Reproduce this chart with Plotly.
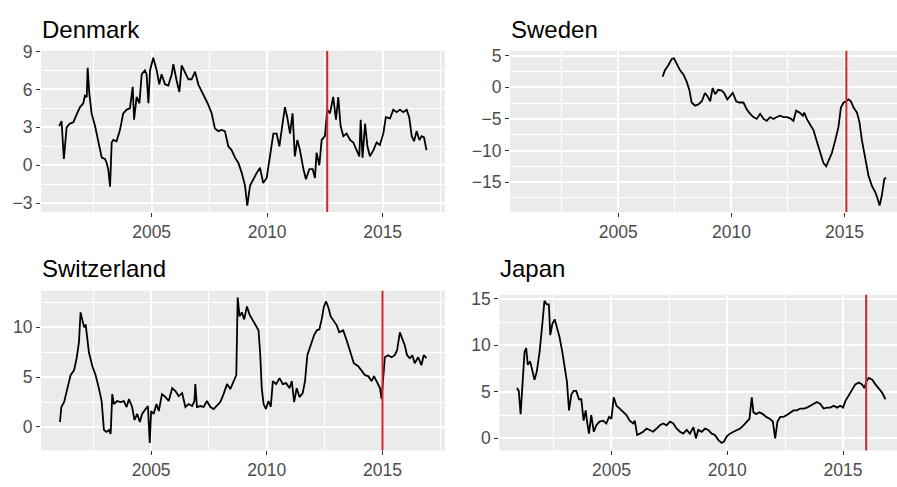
import plotly.graph_objects as go

# ---------------- data ----------------
countries = ["Denmark", "Sweden", "Switzerland", "Japan"]
policy_dates = [2012.6, 2015.08, 2015.0, 2016.0]

dk_year = [2001.00, 2001.10, 2001.20, 2001.32, 2001.46, 2001.61, 2001.75, 2001.90, 2002.04, 2002.11,
           2002.19, 2002.23, 2002.30, 2002.40, 2002.55, 2002.69, 2002.84, 2002.98, 2003.05, 2003.12,
           2003.20, 2003.27, 2003.34, 2003.48, 2003.63, 2003.77, 2003.92, 2004.06, 2004.18, 2004.24,
           2004.35, 2004.47, 2004.57, 2004.71, 2004.78, 2004.86, 2004.93, 2005.07, 2005.22, 2005.33,
           2005.43, 2005.58, 2005.72, 2005.87, 2005.94, 2006.08, 2006.20, 2006.30, 2006.44, 2006.59,
           2006.73, 2006.88, 2007.02, 2007.16, 2007.31, 2007.45, 2007.60, 2007.74, 2007.89, 2008.03,
           2008.17, 2008.32, 2008.46, 2008.61, 2008.75, 2008.90, 2009.04, 2009.14, 2009.26, 2009.40,
           2009.55, 2009.69, 2009.83, 2009.98, 2010.12, 2010.27, 2010.41, 2010.53, 2010.63, 2010.77,
           2010.87, 2010.99, 2011.10, 2011.20, 2011.31, 2011.42, 2011.57, 2011.68, 2011.83, 2011.97,
           2012.07, 2012.14, 2012.26, 2012.36, 2012.50, 2012.60, 2012.72, 2012.86, 2012.98, 2013.08,
           2013.18, 2013.30, 2013.44, 2013.59, 2013.73, 2013.87, 2013.99, 2014.05, 2014.13, 2014.24,
           2014.34, 2014.45, 2014.60, 2014.74, 2014.88, 2015.03, 2015.14, 2015.32, 2015.46, 2015.61,
           2015.75, 2015.89, 2016.04, 2016.15, 2016.26, 2016.36, 2016.47, 2016.59, 2016.69, 2016.79,
           2016.90]
dk_val = [3.1, 3.5, 0.5, 3.0, 3.3, 3.4, 4.0, 4.6, 4.9, 5.5,
          5.4, 7.7, 5.7, 4.1, 3.1, 1.8, 0.6, 0.5, 0.2, -0.3,
          -1.7, 1.8, 2.0, 1.9, 2.8, 4.1, 4.4, 4.5, 6.2, 3.6,
          5.4, 4.9, 7.2, 7.5, 7.2, 4.9, 7.5, 8.5, 7.5, 6.4,
          7.2, 6.4, 6.3, 7.2, 8.0, 6.7, 5.8, 7.9, 7.4, 6.8,
          6.8, 7.4, 6.4, 5.9, 5.4, 4.8, 4.1, 2.9, 2.7, 2.8,
          2.7, 1.5, 1.2, 0.6, 0.2, -0.6, -1.6, -3.2, -1.6, -1.1,
          -0.6, -0.2, -1.4, -1.0, 0.7, 2.5, 2.5, 1.5, 2.8, 4.6,
          3.8, 2.5, 4.1, 0.7, 2.0, 1.2, -0.3, -1.1, -0.3, -0.3,
          -1.0, 1.0, 0.0, 2.0, 2.3, 4.4, 4.1, 5.4, 3.6, 5.4,
          3.1, 2.3, 2.5, 2.0, 1.8, 1.2, 0.7, 3.6, 0.6, 3.3,
          1.5, 0.7, 1.2, 1.8, 1.6, 2.5, 3.8, 3.7, 4.4, 4.2,
          4.4, 4.2, 4.4, 3.8, 2.3, 1.9, 2.7, 2.0, 2.3, 2.2,
          1.2]

se_year = [2006.96, 2007.06, 2007.21, 2007.36, 2007.46, 2007.58, 2007.73, 2007.88, 2008.02, 2008.14,
           2008.24, 2008.39, 2008.54, 2008.69, 2008.83, 2008.94, 2009.06, 2009.17, 2009.28, 2009.42,
           2009.57, 2009.68, 2009.82, 2009.94, 2010.06, 2010.21, 2010.35, 2010.53, 2010.68, 2010.83,
           2010.97, 2011.12, 2011.27, 2011.42, 2011.56, 2011.71, 2011.86, 2012.01, 2012.15, 2012.30,
           2012.45, 2012.60, 2012.74, 2012.86, 2013.01, 2013.16, 2013.22, 2013.33, 2013.48, 2013.63,
           2013.78, 2013.92, 2014.07, 2014.19, 2014.29, 2014.44, 2014.59, 2014.73, 2014.84, 2014.96,
           2015.07, 2015.18, 2015.28, 2015.40, 2015.55, 2015.66, 2015.77, 2015.91, 2016.06, 2016.21,
           2016.36, 2016.46, 2016.55, 2016.65, 2016.76, 2016.84]
se_val = [1.7, 2.7, 3.5, 4.5, 4.6, 3.8, 2.7, 2.0, 0.9, -0.4,
          -2.4, -2.9, -2.7, -2.2, -0.9, -1.4, -2.2, -0.1, -1.1, -0.4,
          -0.5, -0.9, -1.9, -1.4, -0.9, -2.2, -2.4, -2.4, -3.5, -4.2,
          -4.7, -5.0, -4.2, -5.0, -5.3, -4.7, -5.0, -4.7, -4.5, -4.7,
          -4.7, -4.9, -5.3, -3.7, -4.0, -4.5, -4.0, -5.0, -5.8, -6.8,
          -8.6, -10.4, -12.0, -12.5, -11.7, -10.4, -8.4, -6.3, -3.2, -2.4,
          -2.2, -1.9, -2.2, -3.2, -4.0, -5.5, -8.4, -11.4, -14.0, -15.6,
          -16.6, -17.6, -18.7, -17.1, -14.5, -14.3]

ch_year = [2001.06, 2001.12, 2001.24, 2001.38, 2001.52, 2001.67, 2001.78, 2001.88, 2001.95, 2002.03,
           2002.10, 2002.17, 2002.24, 2002.31, 2002.46, 2002.60, 2002.74, 2002.86, 2002.96, 2003.07,
           2003.18, 2003.25, 2003.32, 2003.39, 2003.53, 2003.68, 2003.82, 2003.94, 2004.04, 2004.18,
           2004.28, 2004.40, 2004.51, 2004.61, 2004.76, 2004.86, 2004.94, 2005.00, 2005.11, 2005.23,
           2005.33, 2005.47, 2005.62, 2005.76, 2005.91, 2006.05, 2006.19, 2006.34, 2006.48, 2006.62,
           2006.77, 2006.87, 2006.91, 2006.98, 2007.13, 2007.27, 2007.41, 2007.56, 2007.70, 2007.84,
           2007.99, 2008.13, 2008.28, 2008.42, 2008.56, 2008.68, 2008.74, 2008.82, 2008.92, 2009.02,
           2009.14, 2009.25, 2009.37, 2009.50, 2009.64, 2009.71, 2009.78, 2009.86, 2009.96, 2010.07,
           2010.17, 2010.26, 2010.40, 2010.55, 2010.69, 2010.83, 2010.98, 2011.08, 2011.18, 2011.29,
           2011.41, 2011.55, 2011.65, 2011.75, 2011.90, 2012.04, 2012.16, 2012.27, 2012.37, 2012.47,
           2012.56, 2012.66, 2012.76, 2012.87, 2013.02, 2013.13, 2013.30, 2013.45, 2013.59, 2013.76,
           2013.95, 2014.09, 2014.24, 2014.38, 2014.53, 2014.63, 2014.74, 2014.89, 2014.96, 2015.03,
           2015.10, 2015.24, 2015.39, 2015.53, 2015.63, 2015.75, 2015.86, 2015.96, 2016.06, 2016.18,
           2016.29, 2016.39, 2016.54, 2016.68, 2016.78, 2016.90]
ch_val = [0.5, 2.0, 2.5, 3.9, 5.2, 5.7, 6.9, 8.5, 11.5, 10.7,
          10.0, 10.3, 8.9, 7.5, 6.1, 5.2, 3.9, 2.6, -0.3, -0.5,
          -0.3, -0.7, 3.3, 2.3, 2.6, 2.5, 2.6, 2.0, 2.8, 2.0,
          0.7, 1.3, 0.5, 1.3, 1.8, 2.1, -1.6, 1.6, 1.3, 2.3,
          1.6, 3.3, 3.0, 2.6, 3.9, 3.6, 3.1, 3.4, 2.0, 2.3,
          2.1, 2.6, 4.3, 2.0, 2.1, 2.0, 2.6, 2.0, 1.8, 2.1,
          2.5, 3.3, 4.3, 3.8, 4.6, 5.2, 13.0, 11.1, 11.5, 10.8,
          12.1, 11.3, 10.8, 10.3, 9.7, 7.5, 3.9, 2.3, 1.8, 2.6,
          2.0, 4.6, 4.3, 4.9, 4.3, 4.4, 3.9, 4.6, 2.5, 3.9,
          3.0, 3.4, 4.6, 7.2, 8.2, 9.2, 9.7, 9.8, 10.8, 12.1,
          12.6, 12.0, 11.1, 10.7, 10.2, 9.5, 9.7, 8.7, 7.7, 6.4,
          6.1, 5.7, 5.2, 5.1, 4.6, 5.1, 4.6, 3.9, 2.8, 4.6,
          7.0, 7.2, 7.0, 7.2, 7.7, 9.5, 8.7, 8.2, 7.2, 6.9,
          7.2, 6.4, 7.0, 6.2, 7.2, 6.9]

jp_year = [2000.92, 2001.00, 2001.08, 2001.15, 2001.25, 2001.32, 2001.39, 2001.49, 2001.61, 2001.68,
           2001.78, 2001.90, 2002.01, 2002.11, 2002.21, 2002.30, 2002.36, 2002.45, 2002.55, 2002.65,
           2002.76, 2002.88, 2002.98, 2003.08, 2003.17, 2003.27, 2003.37, 2003.48, 2003.60, 2003.70,
           2003.80, 2003.89, 2003.95, 2004.03, 2004.13, 2004.24, 2004.35, 2004.49, 2004.64, 2004.78,
           2004.90, 2005.00, 2005.10, 2005.22, 2005.36, 2005.51, 2005.65, 2005.79, 2005.94, 2006.01,
           2006.11, 2006.23, 2006.37, 2006.52, 2006.66, 2006.80, 2006.95, 2007.09, 2007.24, 2007.38,
           2007.53, 2007.67, 2007.81, 2007.96, 2008.10, 2008.25, 2008.39, 2008.54, 2008.65, 2008.75,
           2008.90, 2009.04, 2009.18, 2009.33, 2009.47, 2009.62, 2009.76, 2009.86, 2009.98, 2010.12,
           2010.27, 2010.41, 2010.56, 2010.70, 2010.84, 2010.96, 2011.06, 2011.13, 2011.25, 2011.39,
           2011.54, 2011.68, 2011.83, 2011.97, 2012.07, 2012.17, 2012.29, 2012.43, 2012.58, 2012.72,
           2012.86, 2013.01, 2013.15, 2013.30, 2013.44, 2013.59, 2013.73, 2013.87, 2014.02, 2014.16,
           2014.31, 2014.45, 2014.60, 2014.74, 2014.88, 2015.00, 2015.10, 2015.25, 2015.39, 2015.53,
           2015.68, 2015.82, 2015.92, 2016.01, 2016.11, 2016.26, 2016.40, 2016.54, 2016.69, 2016.83]
jp_val = [5.4, 5.1, 2.6, 5.1, 9.3, 9.7, 7.9, 8.3, 7.2, 6.3,
          7.2, 9.3, 12.1, 14.8, 14.4, 14.4, 11.1, 12.3, 12.8, 11.8,
          10.9, 9.3, 7.9, 6.1, 3.0, 4.7, 5.1, 5.1, 4.2, 4.2,
          1.9, 3.0, 1.8, 0.5, 2.5, 0.7, 1.4, 1.8, 1.9, 1.6,
          2.3, 2.1, 4.4, 3.5, 3.2, 2.8, 2.5, 1.9, 1.6, 1.9,
          0.35, 0.5, 0.7, 1.05, 0.9, 0.7, 1.05, 1.4, 1.6, 1.4,
          1.8, 1.6, 1.05, 0.7, 0.5, 0.9, 0.5, 1.2, 0.0, 0.9,
          0.7, 1.05, 0.9, 0.5, 0.35, -0.2, -0.5, -0.35, 0.2, 0.5,
          0.7, 0.9, 1.05, 1.4, 1.8, 2.1, 4.4, 2.8, 2.6, 2.8,
          2.6, 2.3, 2.1, 1.8, 0.0, 1.8, 2.3, 2.3, 2.5, 2.8,
          3.0, 3.0, 3.2, 3.2, 3.3, 3.5, 3.7, 3.9, 3.7, 3.2,
          3.3, 3.3, 3.5, 3.3, 3.5, 3.3, 4.0, 4.6, 5.3, 5.8,
          6.0, 5.8, 5.4, 6.1, 6.5, 6.3, 5.8, 5.4, 4.9, 4.2]

series_years = [dk_year, se_year, ch_year, jp_year]
series_vals = [dk_val, se_val, ch_val, jp_val]
y_dticks = [3, 5, 5, 5]

# ---------------- layout geometry ----------------
W, H = 897, 487
FONT = "Liberation Sans, Arial, sans-serif"

def xd(a, b):
    return [a / W, b / W]

def yd(top, bottom):
    return [(H - bottom) / H, (H - top) / H]

x_domains = [xd(41, 445), [510 / W, 1.0], xd(41, 445), [499.3 / W, 1.0]]
y_domains = [yd(42.7, 207.3), yd(42.7, 207.3), yd(287.7, 450.7), yd(291.7, 450.7)]
x_ranges = [[2000.21, 2017.70], [2000.21, 2017.32], [2000.24, 2017.70], [2000.16, 2017.33]]
y_ranges = [[-3.70, 9.05], [-19.74, 5.78], [-2.36, 13.67], [-1.31, 15.45]]
title_y = [20.5, 20.5, 264.5, 264.5]

fig = go.Figure()
layout = dict(
    width=W, height=H, autosize=False,
    margin=dict(l=0, r=0, t=0, b=0),
    paper_bgcolor="white", plot_bgcolor="#EBEBEB",
    showlegend=False,
    font=dict(family=FONT),
)

annotations = []
shapes = []
tickfont = dict(family=FONT, size=17.5, color="#4D4D4D")
for i, name in enumerate(countries):
    k = "" if i == 0 else str(i + 1)
    fig.add_trace(go.Scatter(
        x=series_years[i], y=series_vals[i], mode="lines",
        line=dict(color="black", width=1.8),
        xaxis="x" + k, yaxis="y" + k, hoverinfo="skip",
    ))
    common = dict(
        showgrid=True, gridcolor="white", gridwidth=1.6,
        zeroline=False, showline=False,
        ticks="outside", ticklen=4, tickwidth=1.4, tickcolor="#333333",
        tickfont=tickfont,
    )
    layout["xaxis" + k] = dict(
        common, domain=x_domains[i], range=x_ranges[i],
        tickmode="linear", tick0=2005, dtick=5,
        minor=dict(showgrid=True, gridcolor="white", gridwidth=0.8, tick0=2002.5, dtick=5),
        anchor="y" + k,
    )
    layout["yaxis" + k] = dict(
        common, domain=y_domains[i], range=y_ranges[i],
        tickmode="linear", tick0=0, dtick=y_dticks[i],
        minor=dict(showgrid=True, gridcolor="white", gridwidth=0.8,
                   tick0=y_dticks[i] / 2, dtick=y_dticks[i]),
        anchor="x" + k,
    )
    shapes.append(dict(
        type="line", xref="x" + k, yref="y" + k + " domain",
        x0=policy_dates[i], x1=policy_dates[i], y0=0, y1=1,
        line=dict(color="#CC2A2A", width=2),
    ))
    annotations.append(dict(
        text=name, showarrow=False,
        xref="x" + k + " domain", x=0, xanchor="left", xshift=-1,
        yref="paper", y=(H - title_y[i]) / H, yanchor="middle",
        font=dict(family=FONT, size=24, color="black"),
    ))

layout["shapes"] = shapes
layout["annotations"] = annotations
fig.update_layout(**layout)
fig.write_html(
    "out.html",
    config={"displayModeBar": False},
    post_script="document.body.style.margin='0px';document.body.style.overflow='hidden';",
)
